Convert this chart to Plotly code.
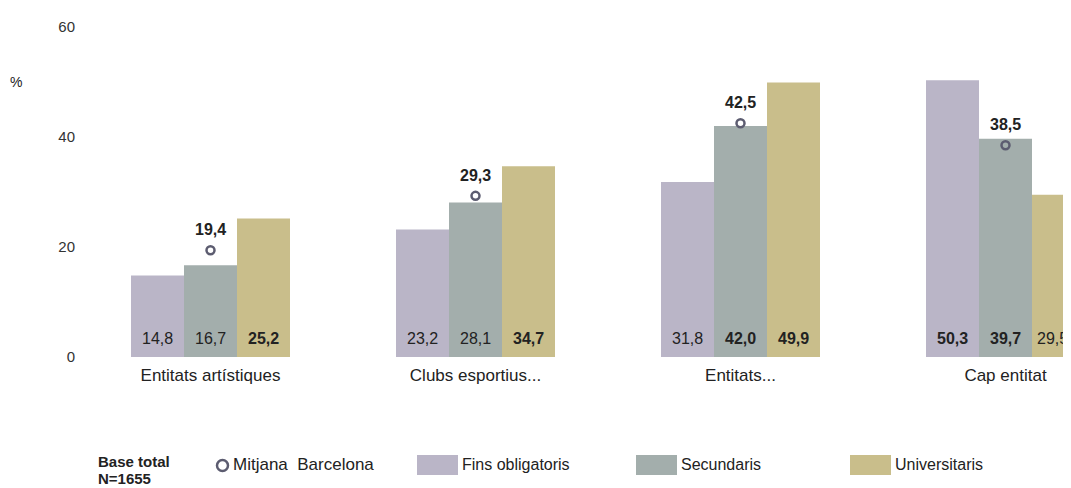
import plotly.graph_objects as go

categories = ["Entitats artístiques", "Clubs esportius...", "Entitats...", "Cap entitat"]
fins_obligatoris = [14.8, 23.2, 31.8, 50.3]
secundaris = [16.7, 28.1, 42.0, 39.7]
universitaris = [25.2, 34.7, 49.9, 29.5]
mitjana_bcn = [19.4, 29.3, 42.5, 38.5]
y_ticks = [0, 20, 40, 60]

# which bar labels are bold in the original
bold_fins = [False, False, False, True]
bold_sec = [False, False, True, True]
bold_uni = [True, True, True, False]

FONT = "Liberation Sans, Arial, sans-serif"
C_FINS = "#bab5c7"
C_SEC = "#a3aeac"
C_UNI = "#c9be8b"
C_MARK = "#5c5c70"
TXT = "#222"

# the page body adds an 8px margin, so the figure is drawn 8px smaller
OFF = 8
FIG_W, FIG_H = 1071 - OFF, 488 - OFF
L, B = 78 - OFF, 357 - OFF        # plot left edge / zero line, figure pixels
W_PLOT, H_PLOT = FIG_W - L, 330
CAT_PX = 265                      # pixels per category
BARGAP = 0.4
BAR_W = (1 - BARGAP) / 3          # in category units


def fmt(v, bold):
    s = f"{v:.1f}".replace(".", ",")
    return f"<b>{s}</b>" if bold else s


fig = go.Figure()
annots = []
series = [
    ("Fins obligatoris", fins_obligatoris, bold_fins, C_FINS),
    ("Secundaris", secundaris, bold_sec, C_SEC),
    ("Universitaris", universitaris, bold_uni, C_UNI),
]
for k, (name, vals, bolds, color) in enumerate(series):
    fig.add_trace(go.Bar(
        x=categories, y=vals, name=name, marker_color=color, marker_line_width=0,
        showlegend=False, hovertemplate=name + ": %{y}<extra></extra>",
    ))
    # value labels sit at the foot of each bar
    for i, (v, b) in enumerate(zip(vals, bolds)):
        xs = 0
        if i == len(categories) - 1 and k == 2:
            xs = -6   # last bar is cut by the frame; the label is nudged in
        annots.append(dict(x=i + (k - 1) * BAR_W, y=0, text=fmt(v, b), showarrow=False,
                           xanchor="center", yanchor="bottom", yshift=8, xshift=xs,
                           font=dict(family=FONT, size=16, color=TXT)))

fig.add_trace(go.Scatter(
    x=categories, y=mitjana_bcn, mode="markers", name="Mitjana Barcelona",
    marker=dict(symbol="circle-open", size=8, color=C_MARK, line=dict(width=2.5, color=C_MARK)),
    showlegend=False, cliponaxis=False,
))
for i, v in enumerate(mitjana_bcn):
    annots.append(dict(x=i, y=v, text=f"<b>{fmt(v, False)}</b>", showarrow=False,
                       xanchor="center", yanchor="bottom", yshift=10,
                       font=dict(family=FONT, size=16, color=TXT)))


# ── hand-drawn legend (reference pixel coords -> paper coords) ──────────────
def px(x):
    return (x - OFF - L) / W_PLOT


def py(y):
    return (B - (y - OFF)) / H_PLOT


shapes = []
paper_annots = [
    dict(x=px(16), y=py(82), text="%", showarrow=False, xanchor="center", yanchor="middle",
         font=dict(size=14)),
    dict(x=px(96), y=py(461), text="<b>Base total</b>", showarrow=False,
         xanchor="left", yanchor="middle", font=dict(size=15)),
    dict(x=px(96), y=py(478), text="<b>N=1655</b>", showarrow=False,
         xanchor="left", yanchor="middle", font=dict(size=15)),
    dict(x=px(231), y=py(465), text="Mitjana  Barcelona", showarrow=False, xanchor="left",
         yanchor="middle", font=dict(size=17)),
]
shapes.append(dict(type="circle", xref="paper", yref="paper",
                   x0=px(217), x1=px(228), y0=py(471), y1=py(460),
                   line=dict(color=C_MARK, width=2.5)))
for name, _, _, color in series:
    sx = {"Fins obligatoris": 417, "Secundaris": 636, "Universitaris": 850}[name]
    shapes.append(dict(type="rect", xref="paper", yref="paper", x0=px(sx), x1=px(sx + 41),
                       y0=py(475), y1=py(455), fillcolor=color, line_width=0))
    paper_annots.append(dict(x=px(sx + 43), y=py(465), text=name, showarrow=False,
                             xanchor="left", yanchor="middle", font=dict(size=16)))
for a in paper_annots:
    a.update(xref="paper", yref="paper")
    a["font"].update(family=FONT, color=TXT)

fig.update_layout(
    width=FIG_W, height=FIG_H,
    margin=dict(l=L, r=0, t=B - H_PLOT, b=FIG_H - B, autoexpand=False),
    paper_bgcolor="white", plot_bgcolor="white",
    barmode="group", bargap=BARGAP, bargroupgap=0,
    font=dict(family=FONT, size=15, color="#333"),
    xaxis=dict(range=[-0.5, W_PLOT / CAT_PX - 0.5], showline=False, ticks="",
               showgrid=False, ticklabelstandoff=6, tickfont=dict(size=17, color=TXT)),
    yaxis=dict(range=[0, 60], tickvals=y_ticks, showgrid=False, zeroline=False,
               showline=False, ticks="", ticklabelstandoff=2, tickfont=dict(size=15, color="#333")),
    shapes=shapes, annotations=annots + paper_annots,
)

fig.write_html("out.html")
